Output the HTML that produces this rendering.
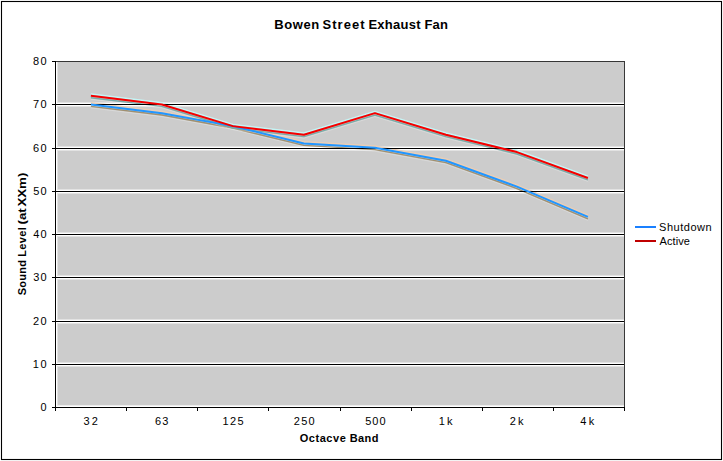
<!DOCTYPE html>
<html><head><meta charset="utf-8"><style>
html,body{margin:0;padding:0;background:#fff;width:723px;height:461px;overflow:hidden;}
svg{display:block;}
</style></head><body>
<svg width="723" height="461" viewBox="0 0 723 461">
<rect x="0" y="0" width="723" height="461" fill="#fff"/>
<rect x="1.5" y="1.5" width="720" height="458" fill="none" stroke="#000" stroke-width="1.1"/>
<rect x="58" y="62" width="566" height="343" fill="#cccccc"/>
<rect x="57" y="61" width="1" height="346" fill="#e2e2e2"/>
<rect x="56" y="362" width="568" height="5" fill="#e2e2e2"/>
<rect x="56" y="363" width="568" height="3" fill="#fff"/>
<rect x="56" y="319" width="568" height="5" fill="#e2e2e2"/>
<rect x="56" y="320" width="568" height="3" fill="#fff"/>
<rect x="56" y="275" width="568" height="5" fill="#e2e2e2"/>
<rect x="56" y="276" width="568" height="3" fill="#fff"/>
<rect x="56" y="232" width="568" height="5" fill="#e2e2e2"/>
<rect x="56" y="233" width="568" height="3" fill="#fff"/>
<rect x="56" y="189" width="568" height="5" fill="#e2e2e2"/>
<rect x="56" y="190" width="568" height="3" fill="#fff"/>
<rect x="56" y="146" width="568" height="5" fill="#e2e2e2"/>
<rect x="56" y="147" width="568" height="3" fill="#fff"/>
<rect x="56" y="102" width="568" height="5" fill="#e2e2e2"/>
<rect x="56" y="103" width="568" height="3" fill="#fff"/>
<rect x="56" y="405" width="568" height="1" fill="#ececec"/>
<rect x="56" y="406" width="568" height="1" fill="#fff"/>
<rect x="56" y="61" width="1" height="346" fill="#fff"/>
<polyline points="90.90,107.90 161.90,116.55 232.90,129.53 303.90,146.83 374.90,151.15 445.90,164.12 516.90,190.07 587.90,220.35" fill="none" stroke="#fff" stroke-opacity="0.25" stroke-width="1.0" stroke-linejoin="round"/>
<polyline points="90.90,106.40 161.90,115.05 232.90,128.03 303.90,145.33 374.90,149.65 445.90,162.62 516.90,188.57 587.90,218.85" fill="none" stroke="#a09070" stroke-width="1.4" stroke-linejoin="round"/>
<polyline points="90.90,102.70 161.90,111.35 232.90,124.33 303.90,141.62 374.90,145.95 445.90,158.92 516.90,184.87 587.90,215.15" fill="none" stroke="#ecceb4" stroke-width="1.4" stroke-linejoin="round"/>
<polyline points="90.90,99.25 161.90,107.90 232.90,129.53 303.90,138.17 374.90,116.55 445.90,138.17 516.90,155.47 587.90,181.42" fill="none" stroke="#fff" stroke-opacity="0.25" stroke-width="1.0" stroke-linejoin="round"/>
<polyline points="90.90,97.75 161.90,106.40 232.90,128.03 303.90,136.67 374.90,115.05 445.90,136.67 516.90,153.97 587.90,179.92" fill="none" stroke="#78aca8" stroke-width="1.4" stroke-linejoin="round"/>
<polyline points="90.90,94.05 161.90,102.70 232.90,124.33 303.90,132.97 374.90,111.35 445.90,132.97 516.90,150.27 587.90,176.22" fill="none" stroke="#c4f6f6" stroke-width="1.4" stroke-linejoin="round"/>
<rect x="52" y="364" width="573" height="1" fill="#000"/>
<rect x="52" y="321" width="573" height="1" fill="#000"/>
<rect x="52" y="277" width="573" height="1" fill="#000"/>
<rect x="52" y="234" width="573" height="1" fill="#000"/>
<rect x="52" y="191" width="573" height="1" fill="#000"/>
<rect x="52" y="148" width="573" height="1" fill="#000"/>
<rect x="52" y="104" width="573" height="1" fill="#000"/>
<rect x="52" y="61" width="573" height="1" fill="#363636"/>
<rect x="52" y="61" width="4" height="1" fill="#000"/>
<rect x="624" y="61" width="1" height="346" fill="#383838"/>
<rect x="55" y="61" width="1" height="350" fill="#000"/>
<rect x="52" y="407" width="573" height="1" fill="#000"/>
<rect x="55" y="407" width="1" height="4" fill="#000"/>
<rect x="126" y="407" width="1" height="4" fill="#000"/>
<rect x="197" y="407" width="1" height="4" fill="#000"/>
<rect x="268" y="407" width="1" height="4" fill="#000"/>
<rect x="340" y="407" width="1" height="4" fill="#000"/>
<rect x="411" y="407" width="1" height="4" fill="#000"/>
<rect x="482" y="407" width="1" height="4" fill="#000"/>
<rect x="553" y="407" width="1" height="4" fill="#000"/>
<rect x="624" y="407" width="1" height="4" fill="#000"/>
<polyline points="90.90,104.50 161.90,113.15 232.90,126.12 303.90,143.43 374.90,147.75 445.90,160.72 516.90,186.67 587.90,216.95" fill="none" stroke="#2296ff" stroke-width="2.0" stroke-linejoin="round"/>
<polyline points="90.90,95.85 161.90,104.50 232.90,126.12 303.90,134.77 374.90,113.15 445.90,134.77 516.90,152.07 587.90,178.02" fill="none" stroke="#f40000" stroke-width="2.0" stroke-linejoin="round"/>
<text x="274.13" y="28.7" font-family="Liberation Sans, sans-serif" font-size="13" font-weight="bold" textLength="45.18" lengthAdjust="spacing" fill="#000">Bowen</text>
<text x="322.53" y="28.7" font-family="Liberation Sans, sans-serif" font-size="13" font-weight="bold" textLength="42.03" lengthAdjust="spacing" fill="#000">Street</text>
<text x="368.43" y="28.7" font-family="Liberation Sans, sans-serif" font-size="13" font-weight="bold" textLength="52.13" lengthAdjust="spacing" fill="#000">Exhaust</text>
<text x="424.53" y="28.7" font-family="Liberation Sans, sans-serif" font-size="13" font-weight="bold" textLength="23.38" lengthAdjust="spacing" fill="#000">Fan</text>
<text x="40.38" y="411" font-family="Liberation Sans, sans-serif" font-size="11" textLength="6.05" lengthAdjust="spacingAndGlyphs" fill="#000">0</text>
<text x="32.76" y="368" font-family="Liberation Sans, sans-serif" font-size="11" textLength="13.87" lengthAdjust="spacing" fill="#000">10</text>
<text x="33.05" y="325" font-family="Liberation Sans, sans-serif" font-size="11" textLength="13.58" lengthAdjust="spacing" fill="#000">20</text>
<text x="33.18" y="281" font-family="Liberation Sans, sans-serif" font-size="11" textLength="13.45" lengthAdjust="spacing" fill="#000">30</text>
<text x="33.35" y="238" font-family="Liberation Sans, sans-serif" font-size="11" textLength="13.28" lengthAdjust="spacing" fill="#000">40</text>
<text x="33.16" y="195" font-family="Liberation Sans, sans-serif" font-size="11" textLength="13.47" lengthAdjust="spacing" fill="#000">50</text>
<text x="33.04" y="152" font-family="Liberation Sans, sans-serif" font-size="11" textLength="13.59" lengthAdjust="spacing" fill="#000">60</text>
<text x="33.04" y="108" font-family="Liberation Sans, sans-serif" font-size="11" textLength="13.59" lengthAdjust="spacing" fill="#000">70</text>
<text x="33.12" y="65" font-family="Liberation Sans, sans-serif" font-size="11" textLength="13.51" lengthAdjust="spacing" fill="#000">80</text>
<text x="83.58" y="425" font-family="Liberation Sans, sans-serif" font-size="11" textLength="14.17" lengthAdjust="spacing" fill="#000">32</text>
<text x="154.94" y="425" font-family="Liberation Sans, sans-serif" font-size="11" textLength="13.54" lengthAdjust="spacing" fill="#000">63</text>
<text x="222.56" y="425" font-family="Liberation Sans, sans-serif" font-size="11" textLength="21.00" lengthAdjust="spacing" fill="#000">125</text>
<text x="293.85" y="425" font-family="Liberation Sans, sans-serif" font-size="11" textLength="20.78" lengthAdjust="spacing" fill="#000">250</text>
<text x="365.16" y="425" font-family="Liberation Sans, sans-serif" font-size="11" textLength="20.37" lengthAdjust="spacing" fill="#000">500</text>
<text x="438.66" y="425" font-family="Liberation Sans, sans-serif" font-size="11" textLength="13.72" lengthAdjust="spacing" fill="#000">1k</text>
<text x="509.65" y="425" font-family="Liberation Sans, sans-serif" font-size="11" textLength="13.74" lengthAdjust="spacing" fill="#000">2k</text>
<text x="580.35" y="425" font-family="Liberation Sans, sans-serif" font-size="11" textLength="13.94" lengthAdjust="spacing" fill="#000">4k</text>
<text x="299.75" y="442" font-family="Liberation Sans, sans-serif" font-size="11" font-weight="bold" textLength="46.03" lengthAdjust="spacing" fill="#000">Octacve</text>
<text x="349.66" y="442" font-family="Liberation Sans, sans-serif" font-size="11" font-weight="bold" textLength="28.86" lengthAdjust="spacing" fill="#000">Band</text>
<text transform="translate(26,0) rotate(-90)" x="-295.32" y="0" font-family="Liberation Sans, sans-serif" font-size="11" font-weight="bold" textLength="35.24" lengthAdjust="spacing">Sound</text>
<text transform="translate(26,0) rotate(-90)" x="-256.74" y="0" font-family="Liberation Sans, sans-serif" font-size="11" font-weight="bold" textLength="29.61" lengthAdjust="spacing">Level</text>
<text transform="translate(26,0) rotate(-90)" x="-224.46" y="0" font-family="Liberation Sans, sans-serif" font-size="11" font-weight="bold" textLength="16.22" lengthAdjust="spacingAndGlyphs">(at</text>
<text transform="translate(26,0) rotate(-90)" x="-206.62" y="0" font-family="Liberation Sans, sans-serif" font-size="11" font-weight="bold" textLength="33.98" lengthAdjust="spacingAndGlyphs">XXm)</text>
<rect x="635" y="226" width="21" height="2" fill="#1a80ff"/>
<rect x="635" y="240" width="21" height="2" fill="#c00000"/>
<text x="659.10" y="231" font-family="Liberation Sans, sans-serif" font-size="11" textLength="52.61" lengthAdjust="spacing" fill="#000">Shutdown</text>
<text x="659.58" y="244.6" font-family="Liberation Sans, sans-serif" font-size="11" textLength="30.31" lengthAdjust="spacing" fill="#000">Active</text>
</svg>
</body></html>
